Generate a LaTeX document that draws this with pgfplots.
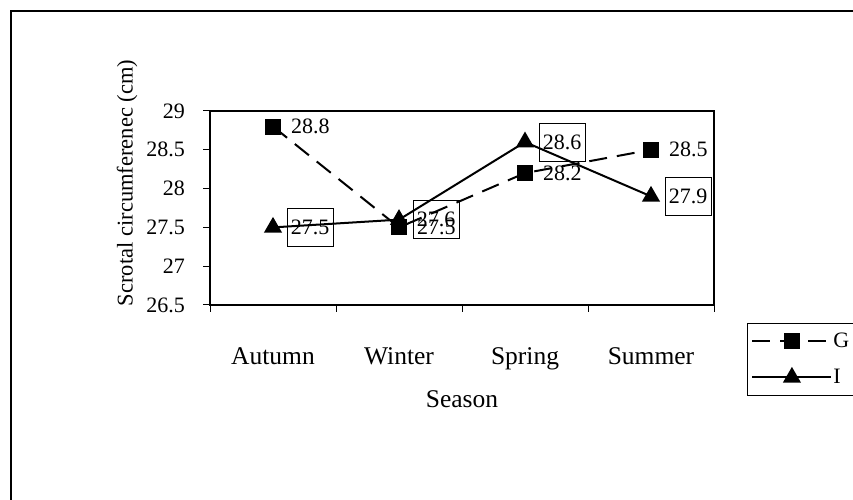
\documentclass[border=0pt]{standalone}
\usepackage{fontspec}
\setmainfont{Liberation Serif}
\usepackage{pgfplots}
\pgfplotsset{compat=1.18}
\usepackage{pgfplotstable}

% season index, scrotal circumference (cm)
\pgfplotstableread{
x y
0 28.8
1 27.5
2 28.2
3 28.5
}\gdata
\pgfplotstableread{
x y
0 27.5
1 27.6
2 28.6
3 27.9
}\idata

\newcommand{\numfont}{\fontsize{22}{26}\selectfont}
\newcommand{\txtfont}{\fontsize{25.5}{30}\selectfont}

\begin{document}
\begin{tikzpicture}
\useasboundingbox (0pt,0pt) rectangle (853pt,500pt);
% outer chart frame (cut off at right and bottom)
\draw[line width=1.3pt] (11pt,-20pt) -- (11pt,489pt) -- (880pt,489pt);
\begin{axis}[
  at={(210pt,195pt)}, anchor=south west,
  scale only axis, width=504pt, height=194pt,
  xmin=-0.5, xmax=3.5, ymin=26.5, ymax=29,
  axis line style={line width=1.3pt},
  tick align=outside, tick pos=left,
  major tick length=7pt,
  every tick/.style={black, line width=1pt},
  xtick={0,1,2,3},
  xticklabels={Autumn,Winter,Spring,Summer},
  x tick style={draw=none},
  extra x ticks={-0.5,0.5,1.5,2.5,3.5},
  extra x tick labels={},
  extra x tick style={x tick style={draw=black, line width=1pt}},
  xticklabel style={font=\txtfont, anchor=base, yshift=-53pt},
  ytick={26.5,27,27.5,28,28.5,29},
  yticklabel style={font=\numfont, anchor=east, inner sep=0pt, xshift=-18pt},
  /pgf/number format/assume math mode=true,
  /pgf/number format/fixed,
  legend style={at={(1.0655,-0.0928)}, anchor=north west,
    draw=black, line width=0.8pt, font=\numfont,
    inner xsep=4pt, inner ysep=9pt, row sep=18pt,
    nodes={inner sep=1pt}},
  legend cell align=left,
  legend image code/.code={\draw[mark repeat=2,mark phase=2,#1]
    plot coordinates {(0pt,0pt) (39.5pt,0pt) (79pt,0pt)};},
  clip=false,
]
\addplot[black, line width=2pt, dash pattern=on 18pt off 10pt,
  mark=square*, mark size=7pt, mark options={solid},
  nodes near coords,
  every node near coord/.style={anchor=west, inner sep=0pt, xshift=17pt,
    font=\numfont, black},
] table[x=x, y=y] {\gdata};
\addplot[black, line width=2pt,
  mark=triangle*, mark size=8.5pt, mark options={solid},
  nodes near coords,
  every node near coord/.style={anchor=west, xshift=14pt,
    draw=black!75, line width=0.8pt, inner xsep=3.5pt,
    minimum height=38pt, font=\numfont, black},
] table[x=x, y=y] {\idata};
\legend{G, I}
% thicker value and category axes
\draw[line width=2.5pt] (rel axis cs:0,1) -- (rel axis cs:0,0) -- (rel axis cs:1,0);
\end{axis}
\node[rotate=90, font=\fontsize{22.5}{27}\selectfont] at (127pt,317pt) {Scrotal circumferenec (cm)};
\node[font=\txtfont] at (462pt,101pt) {Season};
\end{tikzpicture}
\end{document}
